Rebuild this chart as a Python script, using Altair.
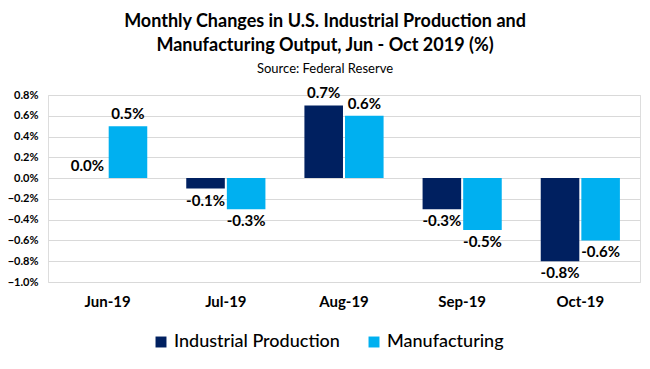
import altair as alt
import pandas as pd

months = ["Jun-19", "Jul-19", "Aug-19", "Sep-19", "Oct-19"]
industrial = [0.0, -0.1, 0.7, -0.3, -0.8]
manufacturing = [0.5, -0.3, 0.6, -0.5, -0.6]
series = ["Industrial Production", "Manufacturing"]
colors = ["#002060", "#00B0F0"]

rows = []
for i, m in enumerate(months):
    rows.append({"month": m, "series": series[0], "value": industrial[i], "order": 0})
    rows.append({"month": m, "series": series[1], "value": manufacturing[i], "order": 1})
df = pd.DataFrame(rows)
df["label"] = df["value"].map(lambda v: f"{v:.1f}%")

FONT = "Lato"

x = alt.X("month:N", sort=months, title=None,
          scale=alt.Scale(paddingInner=0.33, paddingOuter=0.17),
          axis=alt.Axis(labelFontSize=15, labelFontWeight="bold", labelColor="#000000",
                        labelPadding=12, ticks=False, domain=False, labelAngle=0, labelFont=FONT))
xo = alt.XOffset("series:N", sort=series, scale=alt.Scale(paddingInner=0.05))
y = alt.Y("value:Q", title=None,
          scale=alt.Scale(domain=[-1.0, 0.8], nice=False),
          axis=alt.Axis(values=[-1.0, -0.8, -0.6, -0.4, -0.2, 0.0, 0.2, 0.4, 0.6, 0.8],
                        labelExpr="format(datum.value, '.1f') + '%'",
                        labelFontSize=11, labelFontWeight="bold", labelColor="#000000",
                        labelPadding=10, ticks=False, domain=False, labelFont=FONT,
                        grid=True, gridColor="#d9d9d9", gridWidth=1))

base = alt.Chart(df)

bars = base.mark_bar().encode(
    x=x, xOffset=xo, y=y,
    color=alt.Color("series:N", sort=series,
                    scale=alt.Scale(domain=series, range=colors),
                    legend=alt.Legend(title=None, orient="none", direction="horizontal",
                                      legendX=104, legendY=238, symbolType="square",
                                      symbolSize=120, labelFontSize=18, labelFont=FONT,
                                      labelColor="#000000", columnPadding=25,
                                      labelOffset=4, labelLimit=0,
                                      symbolStrokeWidth=0, labelFontWeight=500)),
)

pos = base.transform_filter("datum.value >= 0").mark_text(
    baseline="bottom", dy=-4, fontSize=15, fontWeight="bold", font=FONT, color="#000000"
).encode(x=x, xOffset=xo, y=y, text="label:N")

neg = base.transform_filter("datum.value < 0").mark_text(
    baseline="top", dy=5, fontSize=15, fontWeight="bold", font=FONT, color="#000000"
).encode(x=x, xOffset=xo, y=y, text="label:N")

chart = alt.layer(bars, pos, neg).properties(
    width=592, height=187,
    autosize=alt.AutoSizeParams(type="none"),
    padding={"left": 40, "top": 87, "right": 2, "bottom": 80},
    title=alt.TitleParams(
        text=["Monthly Changes in U.S. Industrial Production and",
              "Manufacturing  Output, Jun - Oct 2019 (%)"],
        subtitle="Source: Federal Reserve",
        fontSize=18, fontWeight="bold", font=FONT, color="#000000", lineHeight=24,
        subtitleFontSize=13, subtitleFont=FONT, subtitleColor="#000000",
        anchor="middle", dx=-19, offset=10, subtitlePadding=8,
    ),
).configure_view(stroke=None).configure(background="white")

chart.save("out.html", embed_options={"renderer": "svg", "actions": False})
